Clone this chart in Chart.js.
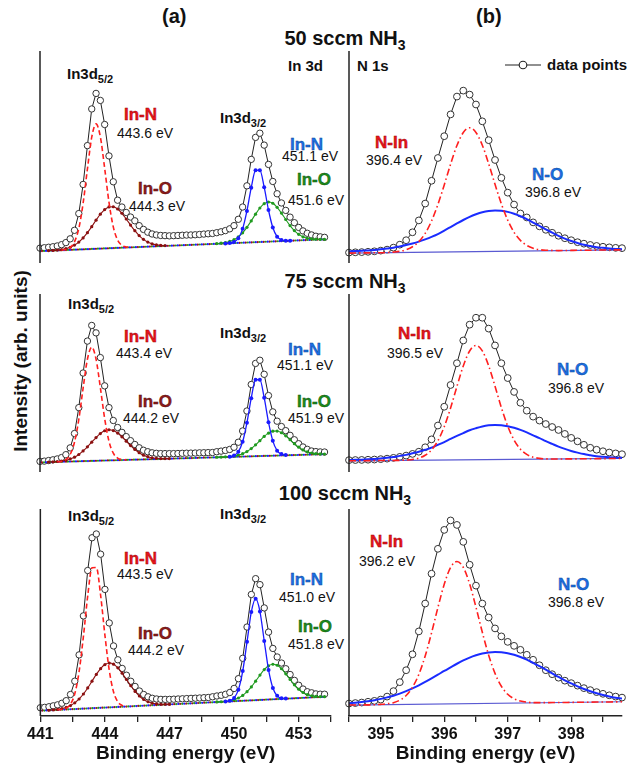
<!DOCTYPE html>
<html lang="en">
<head>
<meta charset="utf-8">
<title>XPS In 3d / N 1s</title>
<script src="https://cdn.jsdelivr.net/npm/chart.js@4.4.1/dist/chart.umd.min.js"></script>
<style>
  html, body { margin: 0; padding: 0; background: #fff; }
  body { position: relative; width: 627px; height: 769px; overflow: hidden;
         font-family: "Liberation Sans", Arial, Helvetica, sans-serif; color: #111; }
  canvas { position: absolute; }
  .t { position: absolute; white-space: nowrap; line-height: 1; }
  .ctr { transform: translateX(-50%); }
  .hd { font-size: 20px; font-weight: bold; }
  .hd sub { font-size: 14px; vertical-align: -5px; line-height: 0; }
  .lv { font-size: 15px; font-weight: bold; }
  .lv sub { font-size: 11px; vertical-align: -4px; line-height: 0; }
  .bd { font-size: 17px; font-weight: bold; }
  .ev { font-size: 14px; }
  .red { color: #e8141b; -webkit-text-stroke: 0.4px #900; }
  .mar { color: #8e1b1b; -webkit-text-stroke: 0.4px #4a0808; }
  .blu { color: #1b6fe3; -webkit-text-stroke: 0.4px #0b3f93; }
  .grn { color: #1c8c1c; -webkit-text-stroke: 0.4px #0b4d0b; }
  .ylab { font-size: 19px; font-weight: bold; transform: translate(-50%, -50%) rotate(-90deg); }
</style>
</head>
<body>
<!-- headers -->
<div class="t hd" style="left:162px;top:6px">(a)</div>
<div class="t hd" style="left:476px;top:6px">(b)</div>
<div class="t hd ctr" style="left:345px;top:28px">50 sccm NH<sub>3</sub></div>
<div class="t hd ctr" style="left:345px;top:271px">75 sccm NH<sub>3</sub></div>
<div class="t hd ctr" style="left:345px;top:483px">100 sccm NH<sub>3</sub></div>
<div class="t ylab" style="left:20px;top:361px">Intensity (arb. units)</div>

<!-- 50 sccm -->
<div class="t lv" style="left:288px;top:58px">In 3d</div>
<div class="t lv" style="left:357px;top:58px">N 1s</div>
<svg style="position:absolute;left:503px;top:58px" width="40" height="14">
  <line x1="2" y1="7" x2="38" y2="7" stroke="#222" stroke-width="1.2"/>
  <circle cx="20" cy="7" r="3.8" fill="#fff" stroke="#222" stroke-width="1.1"/>
</svg>
<div class="t lv" style="left:547px;top:57px">data points</div>
<div class="t lv" style="left:67px;top:66px">In3d<sub>5/2</sub></div>
<div class="t bd red" style="left:124px;top:106px">In-N</div>
<div class="t ev" style="left:117px;top:126px">443.6 eV</div>
<div class="t bd mar" style="left:138px;top:180px">In-O</div>
<div class="t ev" style="left:129px;top:199px">444.3 eV</div>
<div class="t lv" style="left:220px;top:110px">In3d<sub>3/2</sub></div>
<div class="t bd blu" style="left:290px;top:136px">In-N</div>
<div class="t ev" style="left:282px;top:149px">451.1 eV</div>
<div class="t bd grn" style="left:297px;top:171px">In-O</div>
<div class="t ev" style="left:288px;top:193px">451.6 eV</div>
<div class="t bd red" style="left:375px;top:134px">N-In</div>
<div class="t ev" style="left:366px;top:153px">396.4 eV</div>
<div class="t bd blu" style="left:532px;top:166px">N-O</div>
<div class="t ev" style="left:525px;top:185px">396.8 eV</div>

<!-- 75 sccm -->
<div class="t lv" style="left:68px;top:296px">In3d<sub>5/2</sub></div>
<div class="t bd red" style="left:124px;top:328px">In-N</div>
<div class="t ev" style="left:116px;top:346px">443.4 eV</div>
<div class="t bd mar" style="left:138px;top:393px">In-O</div>
<div class="t ev" style="left:123px;top:411px">444.2 eV</div>
<div class="t lv" style="left:220px;top:325px">In3d<sub>3/2</sub></div>
<div class="t bd blu" style="left:288px;top:341px">In-N</div>
<div class="t ev" style="left:277px;top:358px">451.1 eV</div>
<div class="t bd grn" style="left:297px;top:393px">In-O</div>
<div class="t ev" style="left:288px;top:411px">451.9 eV</div>
<div class="t bd red" style="left:398px;top:325px">N-In</div>
<div class="t ev" style="left:387px;top:346px">396.5 eV</div>
<div class="t bd blu" style="left:557px;top:361px">N-O</div>
<div class="t ev" style="left:548px;top:381px">396.8 eV</div>

<!-- 100 sccm -->
<div class="t lv" style="left:68px;top:508px">In3d<sub>5/2</sub></div>
<div class="t lv" style="left:220px;top:506px">In3d<sub>3/2</sub></div>
<div class="t bd red" style="left:124px;top:550px">In-N</div>
<div class="t ev" style="left:117px;top:567px">443.5 eV</div>
<div class="t bd mar" style="left:138px;top:625px">In-O</div>
<div class="t ev" style="left:128px;top:643px">444.2 eV</div>
<div class="t bd blu" style="left:290px;top:571px">In-N</div>
<div class="t ev" style="left:279px;top:590px">451.0 eV</div>
<div class="t bd grn" style="left:298px;top:618px">In-O</div>
<div class="t ev" style="left:288px;top:637px">451.8 eV</div>
<div class="t bd red" style="left:370px;top:533px">N-In</div>
<div class="t ev" style="left:359px;top:554px">396.2 eV</div>
<div class="t bd blu" style="left:558px;top:576px">N-O</div>
<div class="t ev" style="left:548px;top:595px">396.8 eV</div>

<script>
// ---- energy grids (eV) ----
const inEnergy = [
  441.0, 441.2, 441.4, 441.6, 441.8, 442.0, 442.2, 442.4, 442.6, 442.8,
  443.0, 443.2, 443.4, 443.6, 443.8, 444.0, 444.2, 444.4, 444.6, 444.8,
  445.0, 445.2, 445.4, 445.6, 445.8, 446.0, 446.2, 446.4, 446.6, 446.8,
  447.0, 447.2, 447.4, 447.6, 447.8, 448.0, 448.2, 448.4, 448.6, 448.8,
  449.0, 449.2, 449.4, 449.6, 449.8, 450.0, 450.2, 450.4, 450.6, 450.8,
  451.0, 451.2, 451.4, 451.6, 451.8, 452.0, 452.2, 452.4, 452.6, 452.8,
  453.0, 453.2, 453.4, 453.6, 453.8, 454.0, 454.2
];
const inBgEnergy = [441, 445, 449, 454.2];

const nEnergy = [
  394.5, 394.6, 394.7, 394.8, 394.9, 395.0, 395.1, 395.2, 395.3, 395.4,
  395.5, 395.6, 395.7, 395.8, 395.9, 396.0, 396.1, 396.2, 396.3, 396.4,
  396.5, 396.6, 396.7, 396.8, 396.9, 397.0, 397.1, 397.2, 397.3, 397.4,
  397.5, 397.6, 397.7, 397.8, 397.9, 398.0, 398.1, 398.2, 398.3, 398.4,
  398.5, 398.6, 398.7, 398.8
];
const nBgEnergy = [394.5, 398.8];

// ---- In 3d, 50 sccm ----
const in50 = [
  15.0, 15.4, 15.9, 16.4, 17.2, 18.5, 20.6, 24.4, 33.0, 49.9,
  79.3, 118.5, 155.5, 171.2, 164.1, 139.8, 108.1, 82.0, 63.4, 56.5,
  51.0, 46.4, 42.6, 37.7, 33.9, 31.1, 29.3, 28.3, 27.8, 27.6,
  27.4, 27.6, 27.8, 28.0, 28.2, 28.3, 28.5, 28.8, 29.2, 29.5,
  29.8, 30.6, 31.5, 32.7, 34.5, 37.7, 44.1, 56.5, 77.9, 104.6,
  126.8, 131.0, 119.0, 99.5, 82.3, 69.9, 60.6, 53.1, 46.3, 40.7,
  35.9, 32.4, 30.0, 28.3, 27.0, 26.4, 25.9
];
const in50InN52 = [13.0, 13.7, 15.6, 21.4, 34.9, 60.3, 94.9, 127.0, 140.4, 127.4, 95.6, 61.4, 36.4, 23.2, 17.8, 16.2, 15.9];
const in50InO52 = [12.5, 12.7, 13.0, 13.6, 14.5, 15.9, 18.1, 21.1, 25.3, 30.6, 36.7, 43.2, 49.3, 53.9, 56.6, 56.8, 54.5, 50.2, 44.4, 38.3, 32.6, 27.7, 23.9, 21.1, 19.3, 18.3, 17.8, 17.6];
const in50InN32 = [19.8, 20.2, 21.3, 25.0, 34.5, 52.6, 76.0, 93.5, 93.7, 76.5, 53.5, 35.8, 26.6, 23.3, 22.5, 22.5];
const in50InO32 = [19.6, 20.0, 20.7, 21.8, 23.5, 26.4, 30.5, 36.0, 42.5, 49.3, 55.5, 59.9, 61.6, 60.3, 56.2, 50.4, 43.9, 37.8, 32.7, 28.9, 26.4, 25.0, 24.3, 24.0, 23.9, 23.9];
const in50Bg = [12.0, 15.6, 19.2, 23.9];

// ---- In 3d, 75 sccm ----
const in75 = [
  10.7, 11.0, 11.6, 12.3, 13.2, 14.6, 17.5, 24.4, 38.9, 65.1,
  100.1, 132.4, 148.2, 140.7, 115.7, 87.1, 65.1, 52.1, 45.0, 40.1,
  35.8, 31.7, 27.8, 24.5, 22.0, 20.5, 19.4, 18.9, 18.6, 18.6,
  18.6, 18.6, 18.7, 18.9, 19.0, 19.1, 19.2, 19.4, 19.5, 19.6,
  19.7, 20.5, 21.1, 21.8, 22.8, 25.0, 30.1, 41.5, 61.7, 88.5,
  109.8, 113.0, 98.8, 77.3, 60.8, 51.4, 46.0, 41.8, 37.1, 32.6,
  28.6, 25.3, 22.9, 21.2, 20.6, 20.3, 20.2
];
const in75InN52 = [10.3, 10.8, 12.6, 17.8, 30.1, 53.2, 84.8, 114.0, 126.2, 114.2, 85.3, 54.0, 31.1, 19.0, 14.1, 12.6, 12.3];
const in75InO52 = [10.1, 10.3, 10.6, 11.1, 11.9, 13.2, 15.0, 17.7, 21.3, 25.5, 30.2, 34.8, 38.9, 41.7, 42.7, 41.9, 39.4, 35.6, 31.2, 26.7, 22.8, 19.5, 17.0, 15.5, 14.4, 13.9, 13.6, 13.6, 13.6];
const in75InN32 = [15.4, 16.7, 20.5, 30.6, 49.8, 74.7, 93.3, 93.4, 75.1, 50.4, 31.5, 21.6, 18.1, 17.1];
const in75InO32 = [14.9, 15.1, 15.3, 15.6, 16.2, 17.1, 18.5, 20.7, 23.7, 27.5, 31.7, 36.0, 39.3, 41.3, 41.4, 39.7, 36.6, 32.6, 28.6, 25.1, 22.3, 20.4, 19.2, 18.6, 18.3, 18.2];
const in75Bg = [9.7, 12.2, 14.7, 18.0];

// ---- In 3d, 100 sccm ----
const in100 = [
  8.3, 8.7, 9.3, 10.2, 11.2, 12.8, 15.4, 21.6, 35.0, 61.4,
  100.6, 146.2, 179.1, 182.9, 162.6, 127.2, 93.5, 70.4, 56.5, 47.8,
  41.0, 34.9, 29.7, 25.1, 21.6, 19.3, 17.8, 17.1, 16.7, 16.7,
  16.7, 16.9, 17.1, 17.3, 17.5, 17.7, 17.9, 18.1, 18.4, 18.6,
  19.3, 20.1, 20.8, 21.8, 23.6, 27.7, 37.5, 58.0, 89.4, 122.1,
  138.0, 132.0, 108.6, 84.3, 67.9, 59.3, 53.2, 47.5, 41.7, 35.8,
  30.9, 27.1, 24.4, 23.3, 22.2, 21.9, 21.9
];
const in100InN52 = [6.2, 6.7, 7.9, 11.9, 22.3, 44.5, 79.9, 120.6, 148.9, 149.2, 121.3, 81.0, 46.0, 24.2, 14.2, 10.6, 9.8];
const in100InO52 = [5.8, 6.2, 6.6, 7.5, 8.6, 10.5, 13.2, 17.1, 22.1, 28.2, 35.0, 41.8, 47.6, 51.7, 53.2, 52.1, 48.4, 43.0, 36.7, 30.4, 24.7, 20.1, 16.6, 14.3, 12.8, 12.1, 11.7, 11.7, 11.7];
const in100InN32 = [14.5, 15.3, 18.1, 26.5, 45.1, 74.5, 104.6, 117.9, 105.0, 75.3, 46.3, 28.1, 20.3, 17.9, 17.5];
const in100InO32 = [14.1, 14.3, 14.7, 15.4, 16.4, 18.1, 20.7, 24.4, 29.2, 35.0, 41.1, 46.6, 50.5, 52.0, 51.0, 47.5, 42.4, 36.7, 31.3, 26.9, 23.6, 21.4, 20.3, 19.7, 19.4, 19.4];
const in100Bg = [5.3, 9.5, 13.8, 19.3];

// ---- N 1s ----
const n50 = [
  10.5, 10.8, 11.0, 11.3, 11.8, 12.5, 13.5, 15.5, 18.5, 23,
  31, 43, 60, 83, 106, 128, 150, 168, 174, 170,
  160, 143, 124, 104, 86, 71, 59, 50, 46, 41,
  37, 33.5, 30.5, 27.5, 25, 23, 21, 19.5, 18.2, 17.2,
  16.4, 15.8, 15.3, 15.0
];
const n50NIn = [
  10.0, 10.1, 10.2, 10.2, 10.3, 10.4, 10.5, 11.0, 11.8, 13.4,
  16.4, 21.6, 29.9, 42.4, 59.0, 78.8, 99.7, 118.6, 131.7, 136.5,
  131.8, 118.9, 100.2, 79.4, 59.7, 43.3, 31.0, 22.8, 17.8, 14.9,
  13.5, 12.9, 12.7, 12.5, 12.6, 12.7, 12.8, 12.8, 12.9, 13.0,
  13.1, 13.1, 13.2, 13.3
];
const n50NO = [
  11.7, 12.0, 12.4, 12.7, 13.2, 13.9, 14.7, 15.5, 16.8, 18.1,
  19.7, 21.6, 23.9, 26.4, 29.2, 32.7, 36.3, 39.9, 43.4, 46.6,
  49.2, 51.3, 52.6, 53.1, 52.7, 51.6, 49.7, 47.2, 44.2, 40.8,
  37.4, 33.9, 30.6, 27.4, 24.6, 22.2, 20.2, 18.4, 17.1, 16.0,
  15.3, 14.6, 14.2, 14.0
];
const n50Bg = [10.0, 13.3];

const n75 = [
  12.0, 12.1, 12.2, 12.4, 12.6, 13.0, 13.5, 14.3, 15.3, 16.6,
  18.3, 20.5, 25, 33, 47, 66, 88, 110, 133, 149,
  156, 156, 145, 128, 110, 95, 81, 70, 62, 56,
  52, 48.5, 45.5, 42.5, 38.5, 34.5, 31, 27.5, 24.5, 22.5,
  21, 19.7, 18.8, 18.0
];
const n75NIn = [
  11.3, 11.4, 11.4, 11.5, 11.5, 11.6, 11.6, 11.7, 11.8, 12.1,
  12.7, 14.0, 16.9, 22.3, 31.6, 45.8, 64.7, 86.5, 107.2, 122.4,
  128.0, 122.5, 107.4, 86.8, 65.1, 46.4, 32.3, 23.1, 17.8, 15.0,
  13.8, 13.3, 13.2, 13.1, 13.2, 13.3, 13.3, 13.4, 13.4, 13.5,
  13.5, 13.6, 13.6, 13.7
];
const n75NO = [
  12.1, 12.3, 12.5, 12.8, 13.2, 13.7, 14.4, 15.1, 16.3, 17.3,
  18.9, 20.4, 22.5, 24.6, 27.4, 30.3, 33.5, 36.5, 39.4, 42.2,
  44.3, 46.1, 47.2, 47.6, 47.3, 46.3, 44.7, 42.6, 40.0, 37.1,
  34.3, 31.2, 28.4, 25.7, 23.4, 21.3, 19.6, 18.1, 17.0, 16.0,
  15.4, 14.9, 14.5, 14.3
];
const n75Bg = [11.3, 13.7];

const n100 = [
  12.5, 13.0, 13.5, 14.3, 15.2, 16.5, 19.5, 25, 34, 46,
  62, 85, 113, 143, 168, 187, 196.5, 192, 175, 152,
  131, 113, 99, 88, 80, 74.5, 70.5, 66.5, 61.5, 56.5,
  51, 46, 42, 38.5, 35.5, 33, 30.5, 28, 26, 24,
  22.3, 20.8, 19.5, 18.5
];
const n100NIn = [
  11.0, 11.1, 11.2, 11.2, 11.3, 11.7, 12.3, 13.4, 15.9, 20.6,
  28.9, 41.8, 60.3, 83.5, 108.9, 132.4, 149.2, 155.3, 149.4, 132.7,
  109.3, 84.1, 61.1, 42.8, 29.9, 21.8, 17.3, 15.0, 13.9, 13.5,
  13.4, 13.4, 13.5, 13.5, 13.6, 13.7, 13.8, 13.8, 13.9, 14.0,
  14.1, 14.1, 14.2, 14.3
];
const n100NO = [
  12.8, 13.4, 14.1, 14.9, 15.9, 17.2, 18.7, 20.3, 22.5, 25.0,
  27.8, 30.8, 34.2, 37.8, 41.5, 45.3, 48.9, 52.5, 55.8, 58.7,
  61.0, 62.8, 63.9, 64.4, 64.0, 63.1, 61.5, 59.3, 56.6, 53.4,
  50.0, 46.5, 42.9, 39.3, 35.9, 32.7, 29.8, 27.1, 24.8, 22.8,
  21.1, 19.6, 18.4, 17.5
];
const n100Bg = [11.0, 14.3];

// ---- layout ----
const FONT = '"Liberation Sans", Arial, Helvetica, sans-serif';
Chart.defaults.font.family = FONT;

const ROWS = [{ top: 50, h: 214 }, { top: 293, h: 180 }, { top: 508, h: 208 }];
const COLS = {
  in: { left: 40, width: 291.6, canvas: 312, padL: 16, min: 441, max: 454.5, step: 1.5, major: 3 },
  n:  { left: 348, width: 279, canvas: 283, padL: 4, min: 394.5, max: 398.8, step: 0.5, major: 1 }
};
const AXIS_H = 53;

// values -> {x, y}; `from` is the energy of the first value
function pts(energy, vals, from) {
  const k = from === undefined ? 0 : energy.indexOf(from);
  return vals.map((v, i) => ({ x: energy[k + i], y: v }));
}

function measured(points, r) {
  return {
    data: points, borderColor: '#222', borderWidth: 1, tension: 0, clip: false,
    pointRadius: r, pointBorderWidth: 1, pointBorderColor: '#333',
    pointBackgroundColor: '#fff', order: 10
  };
}
function fit(points, color, extra) {
  return Object.assign({
    data: points, borderColor: color, borderWidth: 1.3, pointRadius: 0,
    cubicInterpolationMode: 'monotone', order: 1
  }, extra || {});
}
function dots(color, r) {
  return { pointRadius: r, pointBackgroundColor: color, pointBorderWidth: 0 };
}
function dottedBg(points, color, offset) {
  return {
    data: points, borderColor: color, borderWidth: 2.2, borderCapStyle: 'round',
    borderDash: [0.01, 5.99], borderDashOffset: offset, pointRadius: 0, order: 2
  };
}

function inSets(data, bg, inN52, inO52, inN32, inO32) {
  const bgPts = pts(inBgEnergy, bg);
  return [
    fit(pts(inEnergy, inN52[0], inN52[1]), '#ff1f1f', { borderWidth: 1.6, borderDash: [5, 3] }),
    fit(pts(inEnergy, inO52[0], inO52[1]), '#8b1010', Object.assign({ borderWidth: 1.1 }, dots('#8b1010', 1.6))),
    fit(pts(inEnergy, inN32[0], inN32[1]), '#1a1aff', Object.assign({ borderWidth: 1.3 }, dots('#1a1aff', 2))),
    fit(pts(inEnergy, inO32[0], inO32[1]), '#1f9a1f', Object.assign({ borderWidth: 1.1 }, dots('#1f9a1f', 1.6))),
    dottedBg(bgPts, '#1a1aff', 0),
    dottedBg(bgPts, '#1f9a1f', 2),
    dottedBg(bgPts, '#9b1515', 4),
    measured(pts(inEnergy, data), 3.2)
  ];
}

function nSets(data, nIn, nO, bg) {
  return [
    fit(pts(nEnergy, nIn), '#ff1f1f', { borderWidth: 1.6, borderDash: [7, 3, 1.5, 3] }),
    fit(pts(nEnergy, nO), '#1a2cff', { borderWidth: 2 }),
    { data: pts(nBgEnergy, bg), borderColor: '#5a5ad2', borderWidth: 1.2, pointRadius: 0, order: 3 },
    measured(pts(nEnergy, data), 3.4)
  ];
}

const panels = [
  { col: 'in', row: 0, sets: inSets(in50, in50Bg, [in50InN52, 442.0], [in50InO52, 441.4], [in50InN32, 449.6], [in50InO32, 449.2]) },
  { col: 'n',  row: 0, sets: nSets(n50, n50NIn, n50NO, n50Bg) },
  { col: 'in', row: 1, sets: inSets(in75, in75Bg, [in75InN52, 441.8], [in75InO52, 441.4], [in75InN32, 449.8], [in75InO32, 449.2]) },
  { col: 'n',  row: 1, sets: nSets(n75, n75NIn, n75NO, n75Bg) },
  { col: 'in', row: 2, sets: inSets(in100, in100Bg, [in100InN52, 441.8], [in100InO52, 441.4], [in100InN32, 449.6], [in100InO32, 449.2]) },
  { col: 'n',  row: 2, sets: nSets(n100, n100NIn, n100NO, n100Bg) }
];

// left axis line of each panel
const leftAxis = {
  id: 'leftAxis',
  afterDatasetsDraw(chart) {
    const { ctx, chartArea: a } = chart;
    ctx.save();
    ctx.strokeStyle = '#222';
    ctx.lineWidth = 1.5;
    ctx.beginPath();
    ctx.moveTo(a.left, a.top);
    ctx.lineTo(a.left, a.bottom);
    ctx.stroke();
    ctx.restore();
  }
};

panels.forEach(p => {
  const c = COLS[p.col], r = ROWS[p.row], last = p.row === 2;
  const w = c.canvas, h = 4 + r.h + (last ? AXIS_H : 4);
  const cv = document.createElement('canvas');
  cv.width = w; cv.height = h;
  cv.style.left = (c.left - c.padL) + 'px';
  cv.style.top = (r.top - 4) + 'px';
  cv.style.width = w + 'px';
  cv.style.height = h + 'px';
  document.body.appendChild(cv);

  new Chart(cv, {
    type: 'line',
    data: { datasets: p.sets },
    options: {
      responsive: false,
      animation: false,
      devicePixelRatio: 1,
      events: [],
      layout: { padding: { left: c.padL, right: w - c.padL - c.width, top: 4, bottom: last ? 0 : 4 } },
      plugins: { legend: { display: false }, tooltip: { enabled: false } },
      scales: {
        x: {
          type: 'linear', min: c.min, max: c.max, display: last,
          grid: { drawOnChartArea: false, drawTicks: true, tickLength: 6, color: '#222', lineWidth: 1.3 },
          border: { display: true, color: '#222', width: 1.5 },
          ticks: {
            stepSize: c.step, autoSkip: false, maxRotation: 0, includeBounds: false, padding: 3,
            color: '#111', font: { size: 16, weight: 'bold' },
            callback: v => Math.abs(v / c.major - Math.round(v / c.major)) < 1e-6 ? String(Math.round(v)) : ''
          },
          title: {
            display: true, text: 'Binding energy (eV)', color: '#111',
            font: { size: 19, weight: 'bold' }, padding: { top: 2, bottom: 4 }
          },
          afterFit: s => { if (last) s.height = AXIS_H; }
        },
        y: { display: false, min: 0, max: r.h }
      }
    },
    plugins: [leftAxis]
  });
});
</script>
</body>
</html>
